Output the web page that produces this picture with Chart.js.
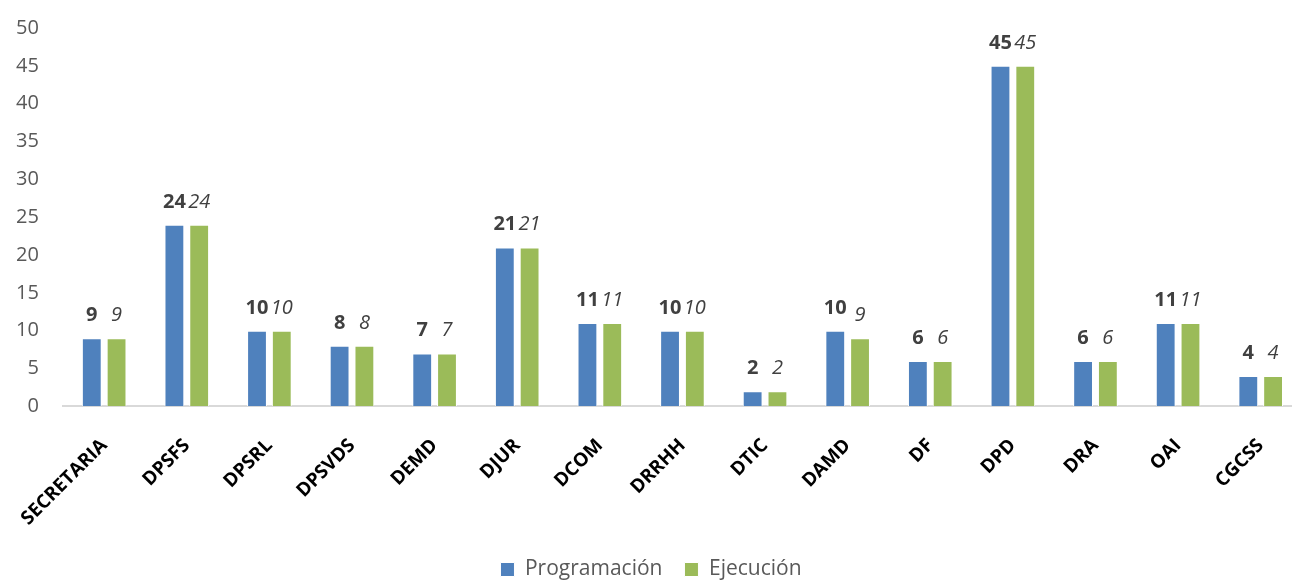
<!DOCTYPE html>
<html>
<head>
<meta charset="utf-8">
<script src="https://cdn.jsdelivr.net/npm/chart.js@4"></script>
<style>
  html, body { margin: 0; background: #fff; overflow: hidden; }
  #wrap { width: 1302px; height: 580px; }
</style>
</head>
<body>
<div id="wrap"><canvas id="barChart"></canvas></div>
<script>
const categories = ['SECRETARIA', 'DPSFS', 'DPSRL', 'DPSVDS', 'DEMD', 'DJUR', 'DCOM', 'DRRHH', 'DTIC', 'DAMD', 'DF', 'DPD', 'DRA', 'OAI', 'CGCSS'];
const programacion = [9, 24, 10, 8, 7, 21, 11, 10, 2, 10, 6, 45, 6, 11, 4];
const ejecucion = [9, 24, 10, 8, 7, 21, 11, 10, 2, 9, 6, 45, 6, 11, 4];
const yTicks = [0, 5, 10, 15, 20, 25, 30, 35, 40, 45, 50];

const FONT = '"Open Sans", "Liberation Sans", sans-serif';

// etiquetas de valor encima de cada barra
const valueLabels = {
    id: 'valueLabels',
    afterDatasetsDraw(chart) {
        const c = chart.ctx;
        chart.data.datasets.forEach((ds, i) => {
            const meta = chart.getDatasetMeta(i);
            c.save();
            c.fillStyle = '#404040';
            c.font = (i === 0 ? 'bold ' : 'italic ') + '20px ' + FONT;
            c.textAlign = 'center';
            c.textBaseline = 'alphabetic';
            meta.data.forEach((bar, j) => {
                c.fillText(String(ds.data[j]), bar.x, bar.y - 17);
            });
            c.restore();
        });
    }
};

new Chart(document.getElementById('barChart'), {
    type: 'bar',
    data: {
        labels: categories,
        datasets: [{
            label: 'Programación',
            data: programacion,
            backgroundColor: '#4f81bd',
            borderColor: '#ffffff',
            borderWidth: 1
        }, {
            label: 'Ejecución',
            data: ejecucion,
            backgroundColor: '#9bbb59',
            borderColor: '#ffffff',
            borderWidth: 1
        }]
    },
    options: {
        responsive: true,
        maintainAspectRatio: false,
        animation: false,
        layout: { padding: { left: 0, top: 12, right: 0, bottom: -10 } },
        datasets: { bar: { categoryPercentage: 0.6, barPercentage: 0.8 } },
        plugins: {
            tooltip: { enabled: false },
            legend: {
                position: 'bottom',
                labels: {
                    color: '#595959',
                    font: { family: FONT, size: 21 },
                    boxWidth: 14,
                    boxHeight: 14,
                    padding: 22
                }
            }
        },
        scales: {
            y: {
                min: 0,
                max: 50,
                afterBuildTicks: axis => { axis.ticks = yTicks.map(v => ({ value: v })); },
                grid: { display: false },
                border: { display: false },
                ticks: { color: '#595959', font: { family: FONT, size: 20 }, padding: 16 }
            },
            x: {
                grid: { display: false },
                border: { display: true, color: '#d9d9d9', width: 2 },
                afterFit: axis => { axis.height -= 13; },
                ticks: {
                    color: '#000000',
                    font: { family: FONT, size: 19, weight: 'bold' },
                    minRotation: 45,
                    maxRotation: 45,
                    autoSkip: false,
                    padding: 20
                }
            }
        }
    },
    plugins: [valueLabels]
});
</script>
</body>
</html>
